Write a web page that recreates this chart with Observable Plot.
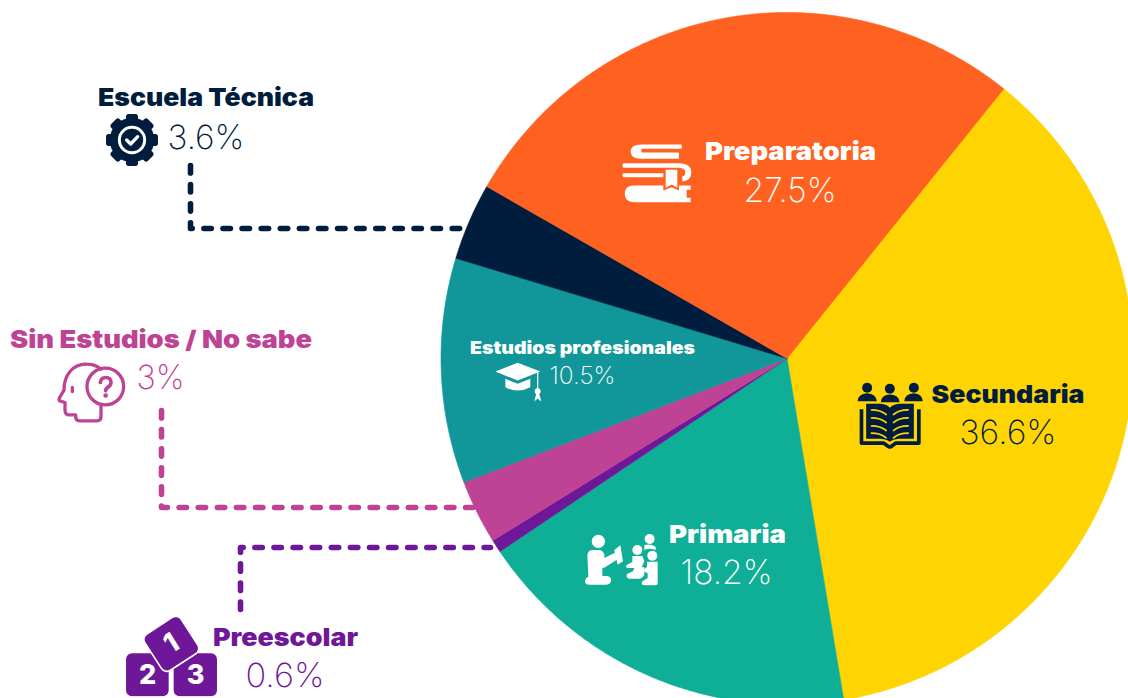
<!DOCTYPE html>
<html><head><meta charset="utf-8">
<script src="https://cdn.jsdelivr.net/npm/d3@7"></script>
<script src="https://cdn.jsdelivr.net/npm/@observablehq/plot@0.6"></script>
<style>html,body{margin:0;padding:0;background:#fff;overflow:hidden}svg{display:block}</style>
</head><body><div id="chart"></div>
<script>
const categories = ["Secundaria","Primaria","Preescolar","Sin Estudios / No sabe","Estudios profesionales","Escuela Técnica","Preparatoria"];
const shares = [36.6,18.2,0.6,3,10.5,3.6,27.5];
const shareLabels = ["36.6%","18.2%","0.6%","3%","10.5%","3.6%","27.5%"];
const sliceColors = ["#FFD403","#0FAE96","#6F1799","#BE4394","#119799","#001D3D","#FF6121"];
const textColors = ["#001D3D","#FFFFFF","#6F1799","#BE4394","#FFFFFF","#001D3D","#FFFFFF"];
// label anchors: name [x, baseline, size, width], share [x, baseline, size, width]
const nameX = [931,668.5,212.5,9.5,469.5,97.5,704.5];
const nameY = [402,542,645,347,353,105,159];
const nameSize = [24.5,24.5,24.5,24.5,17.2,24.5,24.5];
const nameWidth = [153,117,145,302,225,216,171];
const shareX = [959,680,245,136,549,167,743];
const shareY = [443,583,686,388,383,148,201];
const shareSize = [33.5,33.5,33.5,33.5,24,33.5,33.5];
const shareWidth = [97,92,79,48,66,77,93];
const pieCenter = [786.5,358], pieRadius = 346, pieStart = 38.8;

const arcs = d3.pie().sort(null).startAngle(pieStart*Math.PI/180).endAngle((pieStart+360)*Math.PI/180)(shares);
const slicePts = arcs.flatMap((a,i)=>{
  const steps = Math.max(4, Math.ceil((a.endAngle-a.startAngle)*180/Math.PI*2));
  const pts = d3.range(steps+1).map(k=>{
    const t = a.startAngle+(a.endAngle-a.startAngle)*k/steps;
    return {x:pieCenter[0]+pieRadius*Math.sin(t), y:pieCenter[1]-pieRadius*Math.cos(t)};
  });
  return [{x:pieCenter[0],y:pieCenter[1]},...pts,{x:pieCenter[0],y:pieCenter[1]}].map(p=>({...p,name:categories[i],color:sliceColors[i]}));
});
const leaders = [
  {name:"Escuela Técnica",color:"#001D3D",xs:[190,190,465],ys:[165,228,228]},
  {name:"Sin Estudios / No sabe",color:"#BE4394",xs:[161,161,475],ys:[410,507,507]},
  {name:"Preescolar",color:"#6F1799",xs:[240,240,490],ys:[609,547,547]}
];
const leaderPts = leaders.flatMap(l=>l.xs.map((x,i)=>({x,y:l.ys[i],name:l.name,color:l.color})));

const svgUri = (vb,body)=>"data:image/svg+xml,"+encodeURIComponent(`<svg xmlns="http://www.w3.org/2000/svg" viewBox="${vb}">${body}</svg>`);
const navy="#001D3D", pink="#BE4394", purple="#6F1799", yellow="#FFD403";
const gear = svgUri("75 113 160 160",
  `<circle cx="155" cy="193" r="67" fill="${navy}"/>`+
  d3.range(8).map(i=>`<rect x="137" y="115" width="36" height="30" rx="8" fill="${navy}" transform="rotate(${i*45} 155 193)"/>`).join("")+
  `<circle cx="155" cy="193" r="38" fill="none" stroke="#fff" stroke-width="9"/>`+
  `<path d="M139 193 L151 205 L172 183" fill="none" stroke="#fff" stroke-width="10" stroke-linecap="round" stroke-linejoin="round"/>`);
const head = svgUri("165 120 210 190",
  `<g fill="none" stroke="${pink}" stroke-width="10" stroke-linecap="round" stroke-linejoin="round">`+
  `<path d="M300 255 V288 Q300 300 288 300 H235 Q224 300 224 288 V282 H205 Q192 282 192 268 V245 L176 240 Q172 236 176 230 L189 208 C188 165 215 128 258 130 Q282 130 300 145"/>`+
  `<circle cx="313" cy="197" r="55"/><path d="M214 200 V212"/>`+
  `<path d="M298 185 Q300 170 314 170 Q330 170 330 184 Q330 193 322 198 Q314 203 314 210" stroke-width="11"/></g>`+
  `<circle cx="314" cy="224" r="7" fill="${pink}"/>`);
const blocks = svgUri("45 258 277 240",
  `<rect x="47" y="368" width="128" height="129" rx="18" fill="${purple}"/>`+
  `<rect x="190" y="368" width="130" height="129" rx="18" fill="${purple}"/>`+
  `<rect x="120.5" y="277.5" width="125" height="125" rx="17" fill="${purple}" stroke="#fff" stroke-width="10" paint-order="stroke" transform="rotate(-33 183 340)"/>`);
const books = svgUri("30 40 215 178",
  `<g fill="#fff"><path d="M92 42 H212 Q216 48 212 55 H95 Q92 55 92 60 V62 Q92 66 96 66 H205 V85 H92 Q60 85 60 64 Q60 42 92 42Z"/>`+
  `<path d="M38 98 H205 Q242 100 242 125 Q242 150 215 153 V138 Q224 136 224 125 Q224 114 205 112 H38 Q32 105 38 98Z"/>`+
  `<path d="M38 128 H158 V140 H38 Q32 134 38 128Z"/>`+
  `<path d="M165 118 H200 V172 L183 162 L165 172Z"/>`+
  `<path d="M70 165 H158 V180 L183 170 L205 180 V165 H240 V178 H228 V202 H240 V215 H70 Q42 215 42 190 Q42 165 70 165Z"/></g>`);
const secIcon = svgUri("35 35 197 200",
  `<g fill="${navy}"><circle cx="65" cy="52" r="15"/><circle cx="133" cy="55" r="15"/><circle cx="205" cy="52" r="15"/>`+
  `<path d="M36 92 Q38 70 65 68 Q92 70 94 92Z"/><path d="M106 95 Q108 72 133 72 Q160 72 162 95Z"/><path d="M176 92 Q178 70 205 68 Q230 70 232 92Z"/>`+
  `<path d="M62 100 H105 Q125 102 133 112 Q142 102 162 100 H205 V205 H160 Q142 207 133 214 Q124 207 105 205 H62Z"/></g>`+
  `<path d="M48 116 V218 H115 L133 231 L150 218 H220 V116" fill="none" stroke="${navy}" stroke-width="11" stroke-linejoin="round"/>`+
  `<g fill="none" stroke="${yellow}" stroke-width="5" stroke-linecap="round">`+
  `<path d="M78 118 Q105 118 122 132M78 142 Q105 142 122 156M78 166 Q105 166 122 180M78 188 Q105 188 122 202"/>`+
  `<path d="M188 118 Q160 118 144 132M188 142 Q160 142 144 156M188 166 Q160 166 144 180M188 188 Q160 188 144 202"/></g>`);
const priIcon = svgUri("25 45 228 160",
  `<g fill="#fff"><circle cx="68" cy="72" r="20"/>`+
  `<path d="M35 115 Q35 98 52 98 H72 Q82 100 86 112 V122 L118 106 L128 124 L88 150 Q80 155 80 148 V176 H95 Q108 180 106 190 Q104 202 90 202 H42 Q26 202 28 190 Q30 180 38 178 Z"/>`+
  `<path d="M116 98 L134 84 L142 132 L126 142Z"/>`+
  `<circle cx="222" cy="65" r="15"/><circle cx="185" cy="98" r="15"/><circle cx="230" cy="115" r="15"/>`+
  `<path d="M206 84 Q222 78 240 88 V98 Q222 90 206 98Z"/>`+
  `<path d="M170 116 H200 L206 132 L198 150 H206 V172 Q200 184 190 184 H160 Q150 182 154 170 L172 162 L176 152 H154 Q148 146 154 142 L170 134Z"/>`+
  `<path d="M214 133 H246 V196 Q246 204 236 204 H204 Q195 201 200 192 L216 182 V168 L200 160 L214 148Z"/></g>`);
const cap = svgUri("102 95 142 125",
  `<g fill="#fff"><path d="M105 123 L172 97 L240 123 L172 150Z"/>`+
  `<path d="M135 145 L172 160 L210 145 V170 Q172 190 135 170Z"/>`+
  `<rect x="230" y="125" width="4" height="50"/><circle cx="232" cy="182" r="9"/>`+
  `<path d="M228 188 H236 L243 213 L232 204 L222 213Z"/></g>`);
const iconSrc = [secIcon,priIcon,blocks,head,cap,gear,books];
const iconX = [889.5,621.5,171,90.5,517.5,131.5,656];
const iconY = [415,558.5,656,392,382.5,139.5,173];
const iconW = [65.7,76,92.3,70,47.3,53.3,71.7];
const iconH = [66.7,53.3,80,63.3,41.7,53.3,59.3];
const icons = iconSrc.map((src,i)=>({src,x:iconX[i],y:iconY[i],w:iconW[i],h:iconH[i]}));

const nameRows = categories.map((t,i)=>({t,x:nameX[i],y:nameY[i],s:nameSize[i],c:textColors[i],w:nameWidth[i]}));
const shareRows = shareLabels.map((t,i)=>({t,x:shareX[i],y:shareY[i],s:shareSize[i],c:textColors[i],w:shareWidth[i]}));
const digits = ["1","2","3"], digitX=[171,147,195], digitY=[643,675,675], digitRotate=[-32,0,0];
const digitRows = digits.map((t,i)=>({t,x:digitX[i],y:digitY[i],r:digitRotate[i]}));

const font = "Inter, 'Noto Sans', sans-serif";
const textMark = (rows,weight)=>d3.groups(rows,d=>d.s).map(([s,g])=>Plot.text(g,{x:"x",y:"y",text:"t",fill:"c",fontSize:s,fontWeight:weight,fontFamily:font,textAnchor:"start",lineAnchor:"bottom",className:"fit"}));

const plot = Plot.plot({
  width:1128,height:698,margin:0,
  x:{domain:[0,1128],range:[0,1128],axis:null},
  y:{domain:[0,698],range:[0,698],axis:null},
  color:{type:"identity"},
  style:{background:"#fff"},
  marks:[
    Plot.line(slicePts,{x:"x",y:"y",z:"name",fill:"color",stroke:"color",strokeWidth:0.6,curve:"linear"}),
    Plot.line(leaderPts,{x:"x",y:"y",z:"name",stroke:"color",strokeWidth:5.6,strokeDasharray:"7.4 11.7",strokeLinecap:"round",strokeLinejoin:"round",curve:"linear"}),
    Plot.image(icons,{x:"x",y:"y",width:"w",height:"h",src:"src",preserveAspectRatio:"xMidYMid meet"}),
    Plot.text(digitRows,{x:"x",y:"y",text:"t",rotate:"r",fill:"#fff",fontSize:27,fontWeight:800,fontFamily:font,lineAnchor:"middle"}),
    ...textMark(nameRows,900),
    ...textMark(shareRows,250)
  ]
});
document.getElementById("chart").append(plot);
const widths = new Map([...nameRows,...shareRows].map(d=>[d.t,d.w]));
plot.querySelectorAll(".fit text").forEach(el=>{
  const w = widths.get(el.textContent);
  if(w){el.setAttribute("textLength",w);el.setAttribute("lengthAdjust","spacingAndGlyphs");}
});
</script></body></html>
